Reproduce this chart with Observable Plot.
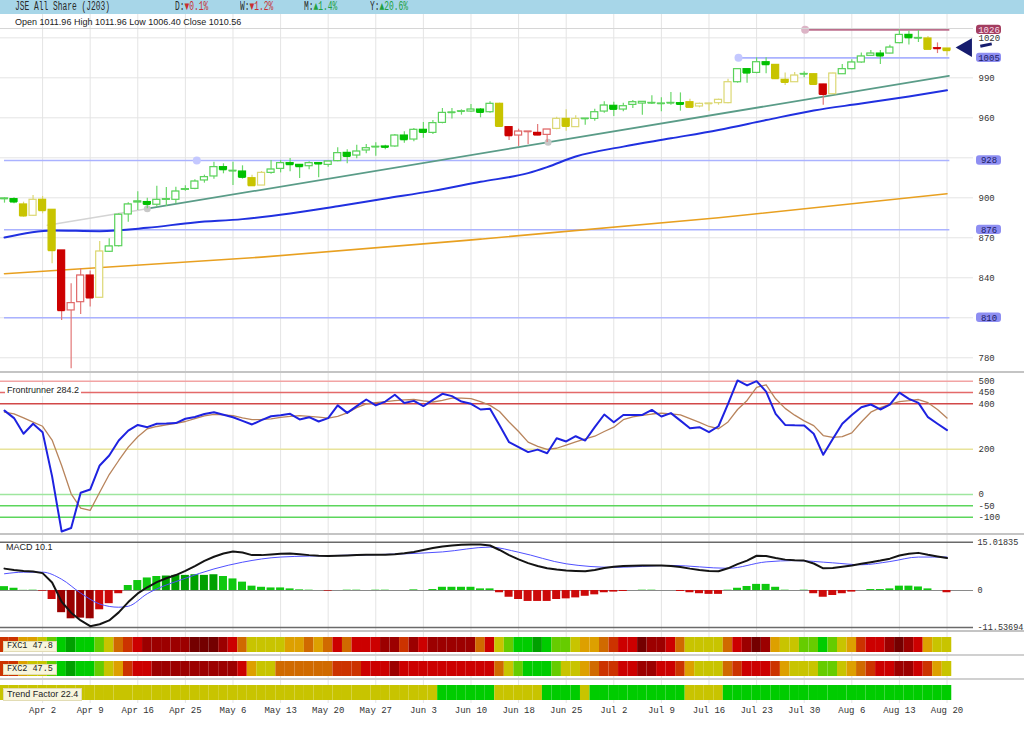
<!DOCTYPE html>
<html><head><meta charset="utf-8">
<script src="https://cdn.jsdelivr.net/npm/d3@7"></script>
<script src="https://cdn.jsdelivr.net/npm/@observablehq/plot@0.6"></script>
<style>
body{margin:0;background:#fff;}
#wrap{position:relative;width:1024px;height:735px;overflow:hidden;background:#fff;font-family:"Liberation Sans",Arial,sans-serif;}
#wrap > *{position:absolute;}
.hd{top:0px;font-family:"Liberation Mono",monospace;font-size:12px;line-height:14px;transform:scaleX(0.66);transform-origin:0 0;color:#2a2a2a;white-space:pre;}
.dn{color:#c83030}.up{color:#20a040}
.lbl{font-size:9px;line-height:11px;color:#222;white-space:pre;}
.box{background:#f8f5dc;border:1px solid #e2dcb4;font-size:9px;line-height:9px;color:#222;white-space:pre;padding:0 3px;}
.sep{left:0;width:1024px;background:#c4c4c4;}
</style></head>
<body><div id="wrap"></div>
<script>
// ---------------- data ----------------
const xLabels = ["Apr 2","Apr 9","Apr 16","Apr 25","May 6","May 13","May 20","May 27","Jun 3","Jun 10","Jun 18","Jun 25","Jul 2","Jul 9","Jul 16","Jul 23","Jul 30","Aug 6","Aug 13","Aug 20"];
const xLabelIdx = [4,9,14,19,24,29,34,39,44,49,54,59,64,69,74,79,84,89,94,99];

const open = [899.0,899.0,895.0,886.5,898.5,891.0,860.5,815.5,821.7,841.7,
825.0,859.5,863.7,887.5,896.5,896.8,894.8,898.5,898.5,906.0,
906.7,913.0,916.0,923.0,920.0,919.7,914.7,909.2,918.7,921.7,
926.0,924.7,923.7,926.0,924.7,927.5,933.7,931.7,935.5,938.0,
938.5,938.5,946.7,943.7,951.0,948.7,956.2,963.7,964.7,964.7,
966.2,964.2,970.5,953.0,946.7,949.5,948.7,947.2,951.7,959.2,
953.0,959.2,959.2,964.7,969.0,966.2,969.7,970.7,971.0,970.5,
971.0,971.0,971.7,968.5,970.5,971.0,971.0,986.7,996.5,993.7,
1001.7,999.7,988.5,986.7,992.7,992.7,985.0,977.7,992.7,996.5,
1001.5,1006.5,1008.2,1008.2,1016.0,1022.2,1019.7,1019.5,1012.2,1011.96];
const high = [900.0,900.0,896.7,901.7,901.0,891.0,860.5,835.5,846.7,845.0,
867.2,869.2,888.0,896.3,904.5,899.7,908.7,907.8,908.0,909.0,
913.5,917.0,926.7,925.5,926.7,924.0,917.0,919.7,928.0,928.0,
929.5,925.0,927.0,926.5,927.5,937.5,936.0,939.5,940.0,941.3,
939.5,947.5,949.5,952.0,956.5,958.0,967.0,967.0,966.0,970.0,
967.0,972.0,971.0,953.5,951.5,949.7,955.0,951.2,960.5,966.0,
961.5,959.5,966.5,972.0,971.7,971.0,973.0,972.0,976.5,975.0,
979.0,978.7,974.0,971.0,971.0,974.0,989.0,996.5,996.7,1005.0,
1005.0,999.8,993.7,994.0,994.5,993.0,985.2,993.5,1000.0,1003.5,
1008.7,1010.5,1010.5,1014.5,1026.0,1025.0,1025.5,1021.0,1016.2,1011.96];
const low = [896.0,895.5,885.5,886.0,888.0,850.5,808.0,771.7,812.5,818.0,
825.0,859.0,863.0,881.7,890.5,891.7,893.0,893.5,895.5,905.0,
906.0,911.0,914.0,918.0,909.2,914.0,909.2,909.2,917.7,918.7,
919.5,914.5,921.0,915.0,923.0,927.0,925.5,929.2,933.0,931.2,
936.0,938.0,941.0,942.0,944.7,947.5,955.5,959.2,962.0,964.0,
960.0,963.5,953.0,943.0,938.5,940.0,946.5,941.5,951.0,950.0,
953.0,954.5,957.5,963.5,961.0,964.5,967.0,962.0,970.0,964.5,
969.5,965.0,967.5,967.5,965.0,969.5,970.5,986.0,986.0,993.0,
993.0,989.5,984.2,986.5,990.0,985.2,969.5,977.5,992.5,996.0,
1001.0,1006.0,1000.0,1008.0,1015.5,1014.7,1016.5,1011.5,1008.2,1006.4];
const close = [899.5,897.0,886.5,898.5,890.5,860.5,815.5,821.0,841.7,825.0,
859.7,863.5,887.3,895.0,897.3,895.2,898.5,899.0,904.7,906.5,
912.2,915.5,923.0,921.2,920.3,915.5,909.2,918.7,921.2,926.0,
925.0,923.5,926.0,925.5,927.2,933.5,931.2,934.7,937.2,938.3,
938.0,946.7,943.7,951.0,949.2,956.0,963.7,964.0,964.9,966.2,
964.2,970.5,953.7,946.7,949.7,949.7,947.2,951.2,959.2,953.7,
959.2,959.4,964.2,969.2,966.5,968.7,971.7,972.0,971.2,970.7,
971.2,970.2,968.0,970.5,970.7,973.5,986.7,996.5,993.7,1001.7,
1000.0,989.5,986.7,991.7,992.9,985.2,977.7,993.2,996.5,1001.5,
1006.0,1008.2,1006.5,1012.7,1022.2,1020.2,1019.9,1011.5,1012.0,1010.56];
const trend = "gg yyyy rrrr y ggggggggggggggg yy gggggggggggggggggggggggg y rrrrr yyy ggggggggggg yyyyy gggg yyy g y r y ggggggggg y r y".replace(/ /g,"").split("");

const ma50Idx = [0,5,10,15,20,25,30,35,40,45,50,55,57,60,65,70,75,80,85,90,95,99];
const ma50Val = [870.2,875.5,875.0,877.5,881.5,884.0,888.2,893.7,899.5,905.2,912.0,918.5,923.0,931.0,938.4,944.6,950.9,958.3,965.5,970.7,976.0,980.6];
const ma200Idx = [0,27,50,75,99];
const ma200Val = [843.0,855.5,869.0,885.0,903.0];
const trendLineIdx = [15,99.2];
const trendLineVal = [891.8,991.5];
const trendExtIdx = [4.5,15];
const trendExtVal = [879.4,891.8];
const trendAnchorIdx = [15,57.1];
const trendAnchorVal = [891.8,941.7];

const levelVals = [1026,1005,928,876,810];
const levelKind = ["res","sup","sup","sup","sup"];
const levelStart = [84,77,0,0,0];
const levelDotIdx = [84.1,77.1,20.2];
const levelDotVal = [1026,1005,928];
const levelDotKind = ["res","sup","sup"];

const priceGrid = [780,810,840,870,900,930,960,990,1020];
const priceTickLabels = [780,840,870,900,960,990,1020];

const fr = [370,337,268,312,275,80,-163,-148,8,22,
128,172,238,282,307,297,312,313,315,334,
342,355,363,352,341,325,309,328,345,350,
356,331,341,322,337,393,360,390,419,393,
410,440,404,413,390,417,444,434,410,400,
375,378,305,231,209,187,198,182,248,234,
257,238,297,353,319,351,351,351,373,344,
359,326,292,297,275,301,400,503,481,500,
454,356,307,305,304,268,175,245,312,351,
385,397,375,396,449,422,404,341,312,284.2];
const frSig = [363,356,338,319,301,240,128,3,-60,-70,
10,88,150,209,255,290,300,307,314,322,
335,347,353,351,348,338,330,331,334,340,
345,348,345,341,337,345,360,383,400,405,
410,414,417,419,413,408,415,425,425,423,
410,393,366,320,278,231,212,199,204,218,
232,245,257,278,297,330,342,349,355,359,
356,351,335,318,300,290,320,375,415,473,
484,422,380,350,325,304,260,252,255,272,
320,363,383,398,410,414,419,405,375,337];
const frLevels = [500,450,400,200,0,-50,-100];
const frLevelColor = ["#f2a4a4","#e46a6a","#d24848","#e8e39a","#9ee69e","#5cd65c","#5cd65c"];

const macd = [6.8,6.4,6.1,5.9,5.4,2.5,-3.5,-6.9,-9.3,-11.1,
-10.5,-9.3,-6.8,-3.6,-0.9,1.0,2.6,3.8,4.8,6.1,
7.6,9.2,10.5,11.5,12.1,11.8,11.0,11.0,11.2,11.4,
11.5,11.3,11.0,10.8,10.7,10.8,10.9,11.0,11.1,11.1,
11.1,11.3,11.6,12.0,12.6,13.2,13.7,14.0,14.2,14.3,
14.3,14.0,12.6,11.0,9.7,8.5,7.6,6.9,6.5,6.2,
6.1,6.0,6.4,7.0,7.4,7.6,7.7,7.8,7.8,7.8,
7.6,7.3,6.8,6.4,6.1,6.0,6.9,8.2,9.3,10.8,
10.7,10.1,9.6,9.4,9.3,8.4,6.9,7.0,7.4,7.8,
8.3,8.8,9.3,9.9,10.9,11.4,11.7,11.1,10.6,10.1];
const sigIdx = [0,2,4,6,8,10,12,13,15,19,22,25,29,35,42,46,51,54,59,64,70,76,80,83,87,90,93,96,99];
const sigVal = [5.2,5.7,5.7,3.5,-0.8,-4.2,-5.2,-4.9,-1.0,3.8,6.7,8.8,10.4,10.9,11.4,12.0,13.5,11.9,8.3,7.2,7.8,6.9,8.9,9.3,8.6,8.0,9.0,10.4,10.4];
const hist = [1.2,0.7,0.05,0.1,-0.2,-2.8,-6.9,-8.8,-8.6,-8.8,
-6.0,-4.1,-1.0,1.55,3.1,3.9,4.35,4.5,4.7,4.7,
4.9,4.7,4.9,4.35,3.6,2.6,1.35,1.0,0.8,0.8,
0.5,0.2,0.1,0,-0.2,0,0.1,0.1,0,0.1,
0.1,0,0,0.2,0,0.3,1.0,1.0,1.0,1.0,
0.5,0.5,-0.7,-2.1,-2.8,-3.4,-3.4,-3.4,-2.8,-2.6,
-2.3,-1.8,-1.35,-0.7,-0.5,-0.3,0,0.1,0.1,0,
0,-0.3,-0.7,-1.0,-1.2,-1.2,0.1,0.7,1.25,1.9,
1.9,1.0,0.1,0,0.1,-1.0,-2.1,-1.55,-1.0,-0.5,
0,0.3,0.3,0.5,1.35,1.35,1.1,0.5,0,-0.7];
const macdTop = 15.01835, macdBottom = -11.53694;

const fxc1 = ("R1 R1 O1 O1 Y G1 G2 G3 G2 G2 G1 Y O2 R1 R2 R3 R3 R3 R3 R3 " +
"R4 R4 R4 R3 R2 O2 Y Y Y Y O1 O1 O2 O1 O2 R2 O2 R2 R2 R2 " +
"R3 R3 R1 R3 R2 R3 R3 R3 R3 R3 O2 R2 Y G1 G2 G2 G3 G2 G1 G1 " +
"Y O1 O1 O2 R1 R2 R2 R4 R3 R3 R2 O2 Y Y Y Y O2 R2 R3 R4 " +
"R3 O1 Y Y G1 G1 G2 G1 Y O1 R1 R2 R2 R3 R4 R3 R2 O1 Y Y").split(" ");
const fxc2 = ("R1 R1 O1 Y Y G1 G2 G3 G2 G2 G1 Y O1 R1 R2 R2 R3 R3 R3 R3 " +
"R3 R3 R3 R3 R3 R2 O1 Y Y O2 O2 O2 O2 O2 O2 R1 R1 R1 R2 R2 " +
"R2 R3 R2 R2 R2 R2 R2 R2 R2 R2 R2 R2 O2 Y G1 G2 G2 G2 G1 Y " +
"Y O1 O2 R1 R1 R2 R2 R3 R3 R2 R2 R1 O1 Y Y Y O2 R1 R2 R2 " +
"R2 R1 O1 Y Y Y G1 G1 Y O1 O2 R1 R2 R2 R3 R3 R2 R1 O1 Y").split(" ");
const trendFactor = ("Y Y Y Y Y Y Y Y Y Y Y Y Y Y Y Y Y Y Y Y Y Y Y Y Y Y Y Y Y Y " +
"Y Y Y Y Y Y Y Y Y Y Y Y Y Y Y Y G2 G2 G2 G2 G2 G2 Y Y Y Y Y G2 G2 G2 " +
"G2 Y G2 G2 G2 G2 G2 G2 G2 G2 G2 G2 Y Y Y Y G2 G2 G2 G2 G2 G2 G2 G2 " +
"G2 G2 G2 G2 G2 G2 G2 G2 G2 G2 G2 G2 G2 G2 G2 G2").split(" ");
const levelCodes = ["G3","G2","G1","Y","O1","O2","R1","R2","R3","R4"];
const levelColors = ["#00a000","#00cc00","#66cc00","#c8c400","#dda000","#d06a00","#cc3300","#cc0000","#9c0000","#740000"];

// ---------------- layout ----------------
const W = 1024, RIGHT = 51;
const lastIdx = close.length - 1;
const idx = d3.range(close.length);
const xScale = {type: "linear", domain: [0, lastIdx], range: [4, 946.5], axis: null};
const mono = "'Liberation Mono', 'DejaVu Sans Mono', monospace";
const wrap = document.getElementById("wrap");
function place(el, top, left = 0) { el.style.top = top + "px"; el.style.left = left + "px"; wrap.appendChild(el); return el; }
function div(html, cls, top, left, extra = "") { const d = document.createElement("div"); d.className = cls; d.innerHTML = html; d.style.cssText += extra; return place(d, top, left); }

const gridStyle = {stroke: "#e4e4e4", strokeOpacity: 1};
const col = {
  g: {fill: "#00c000", hollow: "#5ad25a", wick: "#6ad86a"},
  y: {fill: "#c8c400", hollow: "#dcd874", wick: "#dcd874"},
  r: {fill: "#cc0000", hollow: "#e06a6a", wick: "#e37878"}
};
const up = i => close[i] > open[i];
const bodyStroke = i => up(i) ? col[trend[i]].hollow : col[trend[i]].fill;
const bodyFill = i => up(i) ? "white" : col[trend[i]].fill;
const levelLine = k => levelKind[k] === "res" ? "#bc6e8c" : "#aab2ff";

// header
div("", "", 0, 0, "width:1024px;height:14px;background:#a7d6e8;");
div("JSE All Share (J203)", "hd", 0, 15);
div('D:<span class="dn">▼0.1%</span>', "hd", 0, 175);
div('W:<span class="dn">▼1.2%</span>', "hd", 0, 240);
div('M:<span class="up">▲1.4%</span>', "hd", 0, 304);
div('Y:<span class="up">▲20.6%</span>', "hd", 0, 370);

// main price panel
const yMain = {domain: [770, 1030], range: [356.6, 10], axis: null};
const main = Plot.plot({
  width: W, height: 358, marginLeft: 0, marginRight: RIGHT, marginTop: 0, marginBottom: 0,
  x: xScale, y: yMain,
  style: {fontFamily: mono, fontSize: "9px", background: "white", overflow: "visible"},
  marks: [
    Plot.gridX(xLabelIdx, gridStyle),
    Plot.gridY(priceGrid, gridStyle),
    Plot.ruleY(levelVals.map((v, k) => k), {y: k => levelVals[k], x1: k => levelStart[k], x2: () => lastIdx + 0.3, stroke: levelLine, strokeWidth: 1.6}),
    Plot.line(ma200Idx.map((v, k) => k), {x: k => ma200Idx[k], y: k => ma200Val[k], stroke: "#e8a020", strokeWidth: 1.6, curve: "monotone-x"}),
    Plot.line(ma50Idx.map((v, k) => k), {x: k => ma50Idx[k], y: k => ma50Val[k], stroke: "#2030e0", strokeWidth: 2, curve: "monotone-x"}),
    Plot.line([0, 1], {x: k => trendExtIdx[k], y: k => trendExtVal[k], stroke: "#d4d4d4", strokeWidth: 1.6}),
    Plot.line([0, 1], {x: k => trendLineIdx[k], y: k => trendLineVal[k], stroke: "#5a9c88", strokeWidth: 1.8}),
    Plot.dot([0, 1], {x: k => trendAnchorIdx[k], y: k => trendAnchorVal[k], r: 3.5, fill: "#c8c8c8"}),
    Plot.dot([0, 1, 2], {x: k => levelDotIdx[k], y: k => levelDotVal[k], r: 4, fill: k => levelDotKind[k] === "res" ? "#dcb4c6" : "#c4c8ff"}),
    Plot.ruleX(idx, {x: i => i, y1: i => low[i], y2: i => high[i], stroke: i => col[trend[i]].wick, strokeWidth: 1.2}),
    Plot.ruleY(idx, {y: i => close[i], x1: i => i - 0.37, x2: i => i + 0.37, stroke: bodyStroke, strokeWidth: 1.5}),
    Plot.rect(idx, {x1: i => i - 0.37, x2: i => i + 0.37, y1: i => open[i], y2: i => close[i], fill: bodyFill, stroke: bodyStroke, strokeWidth: 1.2}),
    Plot.axisY(priceTickLabels, {anchor: "right", tickSize: 0, tickPadding: 5, label: null, tickFormat: d => String(d), color: "#333"}),
    Plot.dot([0], {x: () => lastIdx + 2.05, y: () => close[lastIdx] + 2.1, symbol: "triangle", rotate: -90, r: 7, fill: "#161c6e"}),
    Plot.link([0], {x1: () => lastIdx + 3.5, y1: () => close[lastIdx] + 3.1, x2: () => lastIdx + 4.7, y2: () => close[lastIdx] + 4.9, stroke: "#161c6e", strokeWidth: 3})
  ]
});
place(main, 14);

// level tags overlay
const tags = Plot.plot({
  width: W, height: 358, marginLeft: 976, marginRight: 23, marginTop: 0, marginBottom: 0,
  y: yMain,
  style: {fontFamily: mono, fontSize: "9px", background: "none", overflow: "visible"},
  marks: [
    Plot.rect(levelVals.map((v, k) => k), {y1: k => levelVals[k] - 3.5, y2: k => levelVals[k] + 3.5, rx: 3, fill: k => levelKind[k] === "res" ? "#a33d60" : "#8e8ef2"}),
    Plot.text(levelVals.map((v, k) => k), {y: k => levelVals[k], text: k => String(levelVals[k]), fill: k => levelKind[k] === "res" ? "#f6dbe6" : "#1c1c66"})
  ]
});
place(tags, 14);
div("", "", 28, 0, "width:973px;height:1px;background:#d6d6d6;");
div("Open 1011.96 High 1011.96 Low 1006.40 Close 1010.56", "lbl", 17, 15);

// Frontrunner panel
const frPlot = Plot.plot({
  width: W, height: 162, marginLeft: 0, marginRight: RIGHT, marginTop: 0, marginBottom: 0,
  x: xScale, y: {domain: [-100, 500], range: [144.67, 8.65], axis: null},
  style: {fontFamily: mono, fontSize: "9px", background: "white", overflow: "visible"},
  marks: [
    Plot.gridX(xLabelIdx, gridStyle),
    Plot.ruleY(frLevels.map((v, k) => k), {y: k => frLevels[k], stroke: k => frLevelColor[k], strokeWidth: 1.5}),
    Plot.line(idx, {x: i => i, y: i => frSig[i], stroke: "#b8845c", strokeWidth: 1.3}),
    Plot.line(idx, {x: i => i, y: i => fr[i], stroke: "#1e22e0", strokeWidth: 2}),
    Plot.axisY(frLevels, {anchor: "right", tickSize: 0, tickPadding: 5, label: null, tickFormat: d => String(d), color: "#333"})
  ]
});
place(frPlot, 372);
div("Frontrunner 284.2", "lbl", 385, 5, "background:#fff;padding:0 2px;");

// MACD panel
const macdPlot = Plot.plot({
  width: W, height: 95, marginLeft: 0, marginRight: RIGHT, marginTop: 0, marginBottom: 0,
  x: xScale, y: {domain: [macdBottom, macdTop], range: [92.1, 6.7], axis: null},
  style: {fontFamily: mono, fontSize: "8.5px", background: "white", overflow: "visible"},
  marks: [
    Plot.gridX(xLabelIdx, gridStyle),
    Plot.ruleY([macdTop, macdBottom], {stroke: "#6a6a6a", strokeWidth: 1.5}),
    Plot.ruleY([0], {stroke: "#8a8a8a", strokeWidth: 1.2}),
    Plot.rect(idx, {x1: i => i - 0.42, x2: i => i + 0.42, y1: 0, y2: i => hist[i],
      fill: i => hist[i] >= 0 ? (hist[i] >= 4.5 ? "#00a000" : "#10c810") : (hist[i] <= -6.5 ? "#9a0000" : "#cc0a0a")}),
    Plot.line(sigIdx.map((v, k) => k), {x: k => sigIdx[k], y: k => sigVal[k], stroke: "#5050ff", strokeWidth: 1, curve: "monotone-x"}),
    Plot.line(idx, {x: i => i, y: i => macd[i], stroke: "#141414", strokeWidth: 2}),
    Plot.axisY([macdTop, 0, macdBottom], {anchor: "right", tickSize: 0, tickPadding: 4, label: null, tickFormat: d => d === 0 ? "0" : d.toFixed(5), color: "#333"})
  ]
});
place(macdPlot, 535);
div("MACD 10.1", "lbl", 542, 6);

// strips + x labels
const rows = ["FXC1", "FXC2", "TF"];
const stripData = idx.flatMap(i => [
  {i, row: "FXC1", code: fxc1[i]},
  {i, row: "FXC2", code: fxc2[i]},
  {i, row: "TF", code: trendFactor[i]}
]);
const strips = Plot.plot({
  width: W, height: 104, marginLeft: 0, marginRight: RIGHT, marginTop: 0, marginBottom: 0,
  x: xScale,
  y: {type: "band", domain: rows, range: [6, 69], paddingInner: 0.375, paddingOuter: 0, axis: null},
  color: {domain: levelCodes, range: levelColors},
  style: {fontFamily: mono, fontSize: "9px", background: "white", overflow: "visible"},
  marks: [
    Plot.gridX(xLabelIdx, {...gridStyle, insetBottom: 32}),
    Plot.barX(stripData, {x1: d => d.i - 0.5, x2: d => d.i + 0.5, y: "row", fill: "code"}),
    Plot.text(xLabelIdx, {x: d => d, text: (d, k) => xLabels[k], frameAnchor: "top", dy: 75, fill: "#333"})
  ]
});
place(strips, 631);
div("FXC1 47.8", "box", 641, 3, "font-family:" + mono + ";font-size:8.5px;");
div("FXC2 47.5", "box", 664, 3, "font-family:" + mono + ";font-size:8.5px;");
div("Trend Factor 22.4", "box", 688, 3, "line-height:11px;");

// panel separators
div("", "sep", 371, 0, "height:2px;");
div("", "sep", 533, 0, "height:2px;");
div("", "sep", 630, 0, "height:2px;");
div("", "sep", 654, 0, "height:2px;background:#d0d0d0;");
div("", "sep", 678, 0, "height:2px;background:#d0d0d0;");
</script>
</body></html>
